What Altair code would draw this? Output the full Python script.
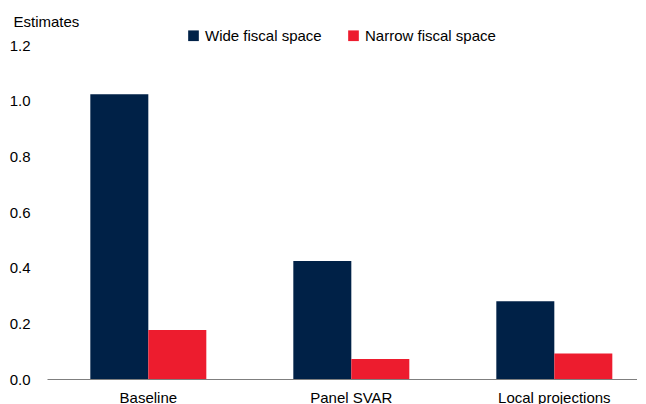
import altair as alt
import pandas as pd

methods = ["Baseline", "Panel SVAR", "Local projections"]
series = ["Wide fiscal space", "Narrow fiscal space"]
wide_values = [1.023, 0.424, 0.279]
narrow_values = [0.176, 0.072, 0.092]
colors = ["#002147", "#ED1C2E"]
y_ticks = [0.0, 0.2, 0.4, 0.6, 0.8, 1.0, 1.2]

rows = []
for m, w, n in zip(methods, wide_values, narrow_values):
    rows.append({"method": m, "series": series[0], "value": w})
    rows.append({"method": m, "series": series[1], "value": n})
df = pd.DataFrame(rows)

FONT = "Liberation Sans"

chart = alt.Chart(df).mark_bar().encode(
    x=alt.X(
        "method:N",
        sort=methods,
        title=None,
        scale=alt.Scale(paddingInner=0.4286, paddingOuter=0.1675, align=0.637),
        axis=alt.Axis(
            labelAngle=0,
            ticks=False,
            labelPadding=11,
            labelFontSize=15,
            labelFont=FONT,
            labelColor="#000000",
            domainColor="#7f7f7f",
            domainWidth=1,
            grid=False,
        ),
    ),
    xOffset=alt.XOffset("series:N", sort=series, scale=alt.Scale(paddingInner=0, paddingOuter=0)),
    y=alt.Y(
        "value:Q",
        scale=alt.Scale(domain=[0, 1.2], nice=False, zero=True),
        axis=alt.Axis(
            values=y_ticks,
            format=".1f",
            title="Estimates",
            titleAngle=0,
            titleAlign="left",
            titleBaseline="alphabetic",
            titleX=-34,
            titleY=-19,
            titleFont=FONT,
            titleFontSize=15,
            titleFontWeight="normal",
            titleColor="#000000",
            domain=False,
            ticks=False,
            grid=False,
            labelPadding=17,
            labelFontSize=15,
            labelFont=FONT,
            labelColor="#000000",
        ),
    ),
    color=alt.Color(
        "series:N",
        sort=series,
        scale=alt.Scale(domain=series, range=colors),
        legend=alt.Legend(
            title=None,
            orient="none",
            direction="horizontal",
            legendX=139,
            legendY=-17,
            symbolType="square",
            symbolSize=114,
            symbolStrokeWidth=0,
            labelFont=FONT,
            labelFontSize=15,
            labelColor="#000000",
            labelOffset=4,
            columnPadding=24,
            padding=0,
            labelLimit=300,
        ),
    ),
).properties(
    width=590,
    height=334,
    autosize=alt.AutoSizeParams(type="none"),
    padding={"left": 39, "top": 37, "right": 0, "bottom": 25},
).configure_view(stroke=None)

chart.save("out.html", embed_options={"renderer": "svg", "actions": False})
